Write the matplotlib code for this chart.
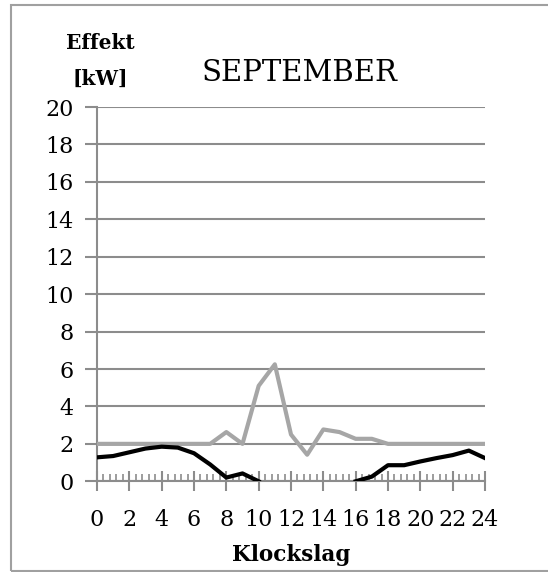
import numpy as np
import matplotlib
matplotlib.use("Agg")
import matplotlib.pyplot as plt
from matplotlib.patches import Rectangle
from matplotlib.ticker import MultipleLocator

# Hourly power, September
hours = list(range(25))
load_black = [1.28, 1.35, 1.55, 1.75, 1.85, 1.8, 1.5, 0.9, 0.2, 0.42, 0.0,
              None, None, None, None, None,
              0.0, 0.25, 0.86, 0.86, 1.06, 1.24, 1.4, 1.64, 1.24]
load_gray = [2.0, 2.0, 2.0, 2.0, 2.0, 2.0, 2.0, 2.0, 2.63, 2.0, 5.1, 6.25,
             2.5, 1.42, 2.77, 2.63, 2.27, 2.27, 2.0, 2.0, 2.0, 2.0, 2.0, 2.0, 2.0]
y_ticks = list(range(0, 21, 2))
x_ticks = list(range(0, 25, 2))

serif = ["DejaVu Serif"]
grid_col = "#8c8c8c"

fig = plt.figure(figsize=(5.48, 5.72), dpi=100)
fig.patches.append(Rectangle((11 / 548, 1 / 572), 1.0, 566 / 572, transform=fig.transFigure,
                             fill=False, edgecolor="#a0a0a0", linewidth=1.5))

ax = fig.add_axes([97 / 548, (572 - 481.3) / 572, 388 / 548, 374.3 / 572])

def to_arr(vals):
    return np.array([np.nan if v is None else v for v in vals], dtype=float)

ax.plot(hours, to_arr(load_gray), color="#a6a6a6", lw=3.0, solid_joinstyle="round", zorder=3)
ax.plot(hours, to_arr(load_black), color="black", lw=3.0, solid_joinstyle="round", zorder=4)

ax.set_xlim(0, 24)
ax.set_ylim(0, 20)
ax.set_yticks(y_ticks)
ax.set_xticks(x_ticks)
ax.xaxis.set_minor_locator(MultipleLocator(0.4))
ax.yaxis.grid(True, color=grid_col, lw=1.5)
ax.set_axisbelow(True)

for side in ["top", "right"]:
    ax.spines[side].set_visible(False)
ax.spines["left"].set_color(grid_col)
ax.spines["left"].set_linewidth(1.5)
ax.spines["bottom"].set_color(grid_col)
ax.spines["bottom"].set_linewidth(1.5)

ax.tick_params(axis="y", length=9, width=1.5, color=grid_col, pad=8, labelsize=16)
ax.tick_params(axis="x", which="major", direction="inout", length=14, width=1.5,
               color=grid_col, pad=13, labelsize=16)
ax.tick_params(axis="x", which="minor", direction="in", length=5, width=1.2, color=grid_col)
for lab in ax.get_xticklabels() + ax.get_yticklabels():
    lab.set_family(serif)

fig.text(300 / 548, 1 - 73 / 572, "SEPTEMBER", ha="center", va="center",
         fontsize=21, family=serif)
fig.text(100 / 548, 1 - 43 / 572, "Effekt", ha="center", va="center",
         fontsize=14.5, fontweight="bold", family=serif)
fig.text(100 / 548, 1 - 79 / 572, "[kW]", ha="center", va="center",
         fontsize=14.5, fontweight="bold", family=serif)
fig.text(291 / 548, 1 - 555 / 572, "Klockslag", ha="center", va="center",
         fontsize=15.5, fontweight="bold", family=serif)

fig.savefig("out.png", dpi=100)
